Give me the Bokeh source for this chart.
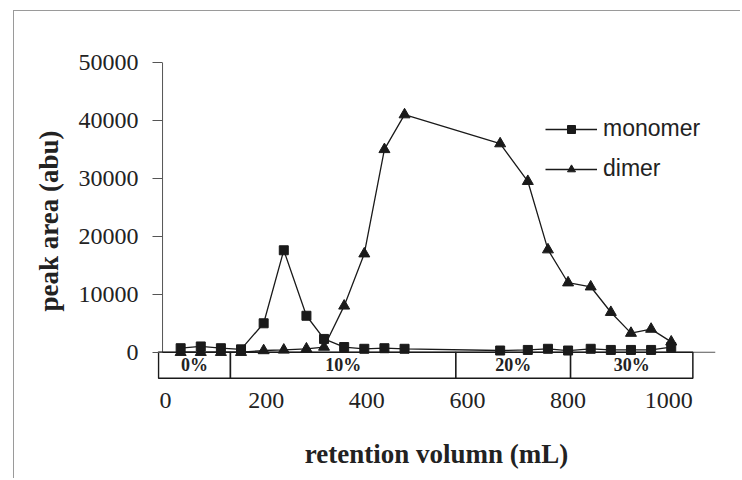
from bokeh.plotting import figure
from bokeh.models import (Range1d, FixedTicker, NumeralTickFormatter, Legend, LegendItem,
                          ColumnDataSource, LabelSet)
from bokeh.embed import file_html
from bokeh.resources import INLINE

# ---- data ----
volume = [30, 70, 110, 150, 195, 235, 280, 315, 355, 395, 435, 475,
          665, 720, 760, 800, 845, 885, 925, 965, 1005]
monomer = [700, 1000, 700, 500, 5000, 17600, 6300, 2300, 900, 600, 700, 600,
           300, 400, 600, 300, 600, 400, 400, 400, 900]
dimer = [0, 0, 0, 0, 300, 400, 600, 900, 8000, 17000, 35000, 41000,
         36000, 29500, 17700, 12000, 11300, 6900, 3300, 4000, 1800]

x_ticks = [0, 200, 400, 600, 800, 1000]
y_ticks = [0, 10000, 20000, 30000, 40000, 50000]

band_edges = [-14, 129, 577, 805, 1048]
band_labels = ["0%", "10%", "20%", "30%"]
band_depth = 4480

TXT = "#222222"
LN = "#1a1a1a"

p = figure(width=727, height=468, output_backend="svg", toolbar_location=None,
           x_range=Range1d(-16, 1093), y_range=Range1d(-4700, 50000),
           min_border_left=143, min_border_right=26, min_border_top=51, min_border_bottom=100)
p.margin = (10, 0, 0, 13)
p.styles = {"border-left": "1px solid #9a9a9a", "border-top": "1px solid #9a9a9a"}
p.outline_line_color = None
p.xgrid.visible = False
p.ygrid.visible = False
p.background_fill_color = "white"
p.border_fill_color = "white"

# y axis
ya = p.yaxis[0]
ya.ticker = FixedTicker(ticks=y_ticks)
ya.formatter = NumeralTickFormatter(format="0")
ya.axis_line_color = None
ya.major_tick_in = 5
ya.major_tick_out = 5
ya.major_tick_line_color = "#555555"
ya.minor_tick_line_color = None
ya.major_label_standoff = 14
ya.major_label_text_font = "Liberation Serif"
ya.major_label_text_font_size = "24px"
ya.major_label_text_color = TXT
ya.axis_label = "peak area (abu)"
ya.axis_label_text_font = "Liberation Serif"
ya.axis_label_text_font_style = "bold"
ya.axis_label_text_font_size = "27px"
ya.axis_label_text_color = TXT
ya.axis_label_standoff = 12

# x axis
xa = p.xaxis[0]
xa.ticker = FixedTicker(ticks=x_ticks)
xa.axis_line_color = None
xa.major_tick_in = 0
xa.major_tick_out = 0
xa.minor_tick_line_color = None
xa.major_label_standoff = 13
xa.major_label_text_font = "Liberation Serif"
xa.major_label_text_font_size = "24px"
xa.major_label_text_color = TXT
xa.axis_label = "retention volumn (mL)"
xa.axis_label_text_font = "Liberation Serif"
xa.axis_label_text_font_style = "bold"
xa.axis_label_text_font_size = "27px"
xa.axis_label_text_color = TXT
xa.axis_label_standoff = 28

# axis lines
p.segment(x0=[-6], y0=[0], x1=[-6], y1=[y_ticks[-1]], line_color="#555555", line_width=1)
p.segment(x0=[-16], y0=[0], x1=[1093], y1=[0], line_color="#555555", line_width=1)

# gradient band table below the axis
band_src = ColumnDataSource(dict(
    left=band_edges[:-1], right=band_edges[1:],
    top=[0] * len(band_labels), bottom=[-band_depth] * len(band_labels),
    xc=[(a + b) / 2 for a, b in zip(band_edges[:-1], band_edges[1:])],
    yc=[-band_depth / 2] * len(band_labels), label=band_labels))
p.quad(left="left", right="right", top="top", bottom="bottom", source=band_src,
       fill_color="white", line_color=LN, line_width=1.5)
p.add_layout(LabelSet(x="xc", y="yc", text="label", source=band_src,
                      text_align="center", text_baseline="middle",
                      text_font="Liberation Serif", text_font_style="bold",
                      text_font_size="18px", text_color=TXT))

# series
dl = p.line(volume, dimer, line_color=LN, line_width=1.3)
ds = p.scatter(volume, dimer, marker="triangle", size=11, fill_color=LN, line_color=LN)
ml = p.line(volume, monomer, line_color=LN, line_width=1.3)
ms = p.scatter(volume, monomer, marker="square", size=9, fill_color=LN, line_color=LN)

legend = Legend(items=[LegendItem(label="monomer", renderers=[ml, ms]),
                       LegendItem(label="dimer", renderers=[dl, ds])],
                location=(388, 197), orientation="vertical",
                glyph_width=52, glyph_height=20, label_height=20, spacing=13,
                label_standoff=6, padding=0, margin=0,
                border_line_color=None, background_fill_alpha=0,
                label_text_font="Liberation Sans", label_text_font_size="23px",
                label_text_color=TXT)
p.add_layout(legend)

open("out.html", "w").write(file_html(p, INLINE))
